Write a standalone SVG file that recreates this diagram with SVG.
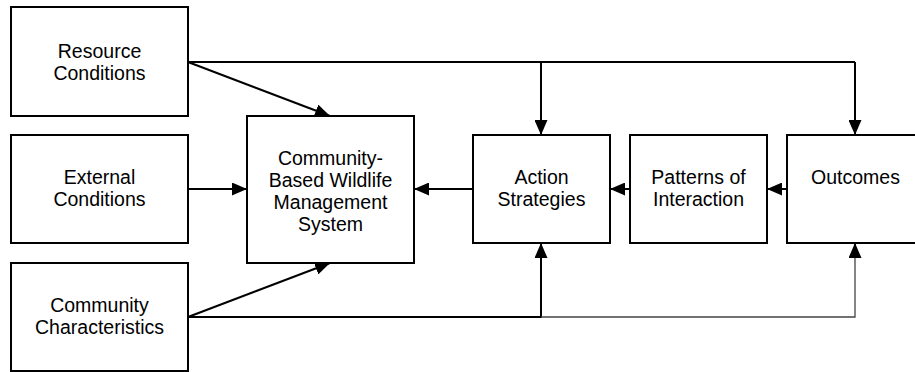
<svg xmlns="http://www.w3.org/2000/svg" width="915" height="372" viewBox="0 0 915 372">
<defs>
<style>
.box{fill:#fff;stroke:#000;stroke-width:2}
.t{font-family:"Liberation Sans",Arial,sans-serif;font-size:19.5px;fill:#000;text-anchor:middle}
.c{fill:none;stroke:#000;stroke-width:2}
.g{fill:none;stroke:#444;stroke-width:1.3}
</style>
<marker id="ah" markerUnits="userSpaceOnUse" markerWidth="15" markerHeight="13" refX="15" refY="6.5" orient="auto">
<path d="M0,0 L15,6.5 L0,13 Z" fill="#000"/>
</marker>
</defs>
<rect width="915" height="372" fill="#fff"/>
<g id="connectors">
<path class="c" d="M188,62 H855"/>
<path class="c" d="M541,62 V135" marker-end="url(#ah)"/>
<path class="c" d="M855,62 V135" marker-end="url(#ah)"/>
<path class="c" d="M188,62 L330,116" marker-end="url(#ah)"/>
<path class="c" d="M188,189 H247" marker-end="url(#ah)"/>
<path class="c" d="M188,317 L330,263" marker-end="url(#ah)"/>
<path class="c" d="M188,317 H541 V243" marker-end="url(#ah)"/>
<path class="g" d="M541,317 H855 V250"/>
<path class="c" d="M855,252 V243" marker-end="url(#ah)"/>
<path class="c" d="M473,189 H414" marker-end="url(#ah)"/>
<path class="c" d="M630,189 H610" marker-end="url(#ah)"/>
<path class="c" d="M787,189 H767" marker-end="url(#ah)"/>
</g>
<g id="resource">
<rect class="box" x="11" y="7" width="177" height="109"/>
<text class="t" x="99.5" y="57.5">Resource</text>
<text class="t" x="99.5" y="79.5">Conditions</text>
</g>
<g id="external">
<rect class="box" x="11" y="135" width="177" height="108"/>
<text class="t" x="99.5" y="184">External</text>
<text class="t" x="99.5" y="206">Conditions</text>
</g>
<g id="community">
<rect class="box" x="11" y="263" width="177" height="108"/>
<text class="t" x="99.5" y="312">Community</text>
<text class="t" x="99.5" y="334">Characteristics</text>
</g>
<g id="cbwm">
<rect class="box" x="247" y="116" width="167" height="147"/>
<text class="t" x="330.5" y="165">Community-</text>
<text class="t" x="330.5" y="187">Based Wildlife</text>
<text class="t" x="330.5" y="209">Management</text>
<text class="t" x="330.5" y="231">System</text>
</g>
<g id="action">
<rect class="box" x="473" y="135" width="137" height="108"/>
<text class="t" x="541.5" y="184">Action</text>
<text class="t" x="541.5" y="206">Strategies</text>
</g>
<g id="patterns">
<rect class="box" x="630" y="135" width="137" height="108"/>
<text class="t" x="698.5" y="184">Patterns of</text>
<text class="t" x="698.5" y="206">Interaction</text>
</g>
<g id="outcomes">
<rect class="box" x="787" y="135" width="137" height="108"/>
<text class="t" x="855.5" y="184">Outcomes</text>
</g>
</svg>
